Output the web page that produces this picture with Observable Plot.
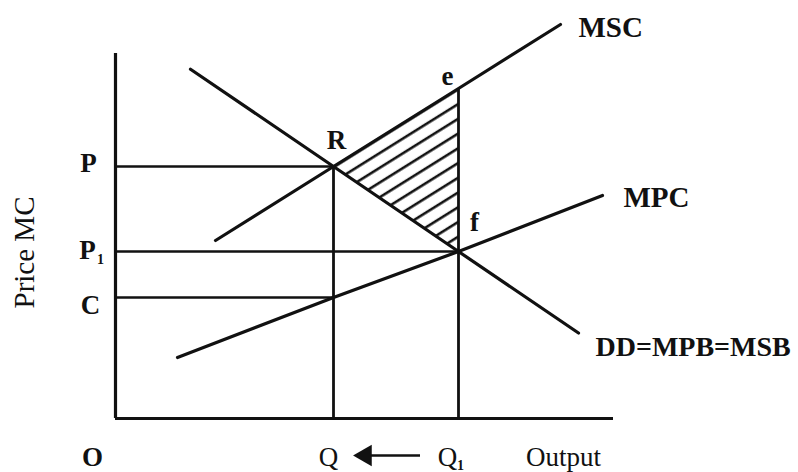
<!DOCTYPE html>
<html>
<head>
<meta charset="utf-8">
<script src="https://cdn.jsdelivr.net/npm/d3@7"></script>
<script src="https://cdn.jsdelivr.net/npm/@observablehq/plot@0.6"></script>
<style>
  html, body { margin: 0; padding: 0; background: #fff; }
  #chart svg { display: block; }
</style>
</head>
<body>
<div id="chart"></div>
<script>
// ---- data (diagram units; origin O = 0,0) ----
const Q = 8.72, Q1 = 13.72;
const P = 10.08, P1 = 6.68, C = 4.84;
const xAxisEnd = 19.92, yAxisTop = 14.6;

const msc = [{x: 4.0, y: 7.12}, {x: Q, y: P}, {x: Q1, y: 13.2}, {x: 17.8, y: 15.76}];
const dd  = [{x: 3.0, y: 13.97}, {x: Q, y: P}, {x: Q1, y: P1}, {x: 18.52, y: 3.42}];
const mpc = [{x: 2.48, y: 2.44}, {x: Q, y: C}, {x: Q1, y: P1}, {x: 19.48, y: 8.92}];

const hatchArea = [{x: Q, lo: P, hi: P}, {x: Q1, lo: P1, hi: 13.2}];

const hLines = [
  {y: P, x2: Q}, {y: P1, x2: Q1}, {y: C, x2: Q}
];
const vLines = [
  {x: Q, y2: P}, {x: Q1, y2: 13.2}
];

const curveLabels = [
  {x: 18.52, y: 15.64, t: "MSC"},
  {x: 20.32, y: 8.84, t: "MPC"}
];
const demandLabel = [{x: 19.2, y: 2.84, t: "DD=MPB=MSB"}];
const pointLabels = [
  {x: 13.28, y: 13.68, t: "e"},
  {x: 8.84, y: 11.12, t: "R"},
  {x: 14.36, y: 7.84, t: "f"},
  {x: -1.08, y: 10.2, t: "P"},
  {x: -1.12, y: 6.72, t: "P"},
  {x: -1.0, y: 4.52, t: "C"},
  {x: -0.92, y: -1.56, t: "O"}
];
const axisLabels = [
  {x: 8.52, y: -1.56, t: "Q"},
  {x: 13.28, y: -1.56, t: "Q"},
  {x: 17.92, y: -1.56, t: "Output"}
];
const subs = [
  {x: -0.6, y: 6.36, t: "1"},
  {x: 13.8, y: -1.9, t: "1"}
];
const arrowLine = [{x1: 12.2, x2: 10.0, y: -1.48}];
const arrowHead = [{x: 10.0, y: -1.48}];
const yTitle = [{x: -3.64, y: 6.64, t: "Price MC"}];

const ink = "#111";

const chart = Plot.plot({
  width: 798,
  height: 472,
  margin: 0,
  x: {domain: [-4.6, 27.32], axis: null},
  y: {domain: [-2.16, 16.72], axis: null},
  style: {fontFamily: "'Liberation Serif', 'Times New Roman', serif", background: "#fff", color: ink},
  marks: [
    Plot.areaY(hatchArea, {x: "x", y1: "lo", y2: "hi", fill: "url(#hatch)", curve: "linear"}),
    // axes
    Plot.ruleY([0], {x1: 0, x2: xAxisEnd, stroke: ink, strokeWidth: 3.2}),
    Plot.ruleX([0], {y1: 0, y2: yAxisTop, stroke: ink, strokeWidth: 3.2}),
    // guide lines
    Plot.ruleY(hLines, {y: "y", x1: 0, x2: "x2", stroke: ink, strokeWidth: 2.6}),
    Plot.ruleX(vLines, {x: "x", y1: 0, y2: "y2", stroke: ink, strokeWidth: 2.8}),
    // curves
    Plot.line(msc, {x: "x", y: "y", stroke: ink, strokeWidth: 3.2}),
    Plot.line(dd, {x: "x", y: "y", stroke: ink, strokeWidth: 3.2}),
    Plot.line(mpc, {x: "x", y: "y", stroke: ink, strokeWidth: 3.2}),
    // arrow
    Plot.ruleY(arrowLine, {y: "y", x1: "x1", x2: "x2", stroke: ink, strokeWidth: 2.5}),
    Plot.dot(arrowHead, {x: "x", y: "y", symbol: "triangle", r: 8, rotate: -90, fill: ink, stroke: "none"}),
    // labels
    Plot.text(curveLabels, {x: "x", y: "y", text: "t", textAnchor: "start", fontSize: 29, fontWeight: "bold", fill: ink}),
    Plot.text(demandLabel, {x: "x", y: "y", text: "t", textAnchor: "start", fontSize: 28, fontWeight: "bold", fill: ink}),
    Plot.text(pointLabels, {x: "x", y: "y", text: "t", textAnchor: "middle", fontSize: 27, fontWeight: "bold", fill: ink}),
    Plot.text(axisLabels, {x: "x", y: "y", text: "t", textAnchor: "middle", fontSize: 27, fill: ink}),
    Plot.text(subs, {x: "x", y: "y", text: "t", fontSize: 14, fontWeight: "bold", fill: ink}),
    Plot.text(yTitle, {x: "x", y: "y", text: "t", rotate: -90, fontSize: 29, fill: ink})
  ]
});

// hatch pattern definition
const svg = d3.select(chart);
const defs = svg.insert("defs", ":first-child");
const pat = defs.append("pattern")
  .attr("id", "hatch")
  .attr("patternUnits", "userSpaceOnUse")
  .attr("width", 12.5).attr("height", 12.5)
  .attr("patternTransform", "rotate(-32)");
pat.append("line")
  .attr("x1", 0).attr("y1", 6).attr("x2", 12.5).attr("y2", 6)
  .attr("stroke", ink).attr("stroke-width", 2.6);

document.getElementById("chart").appendChild(chart);
</script>
</body>
</html>
